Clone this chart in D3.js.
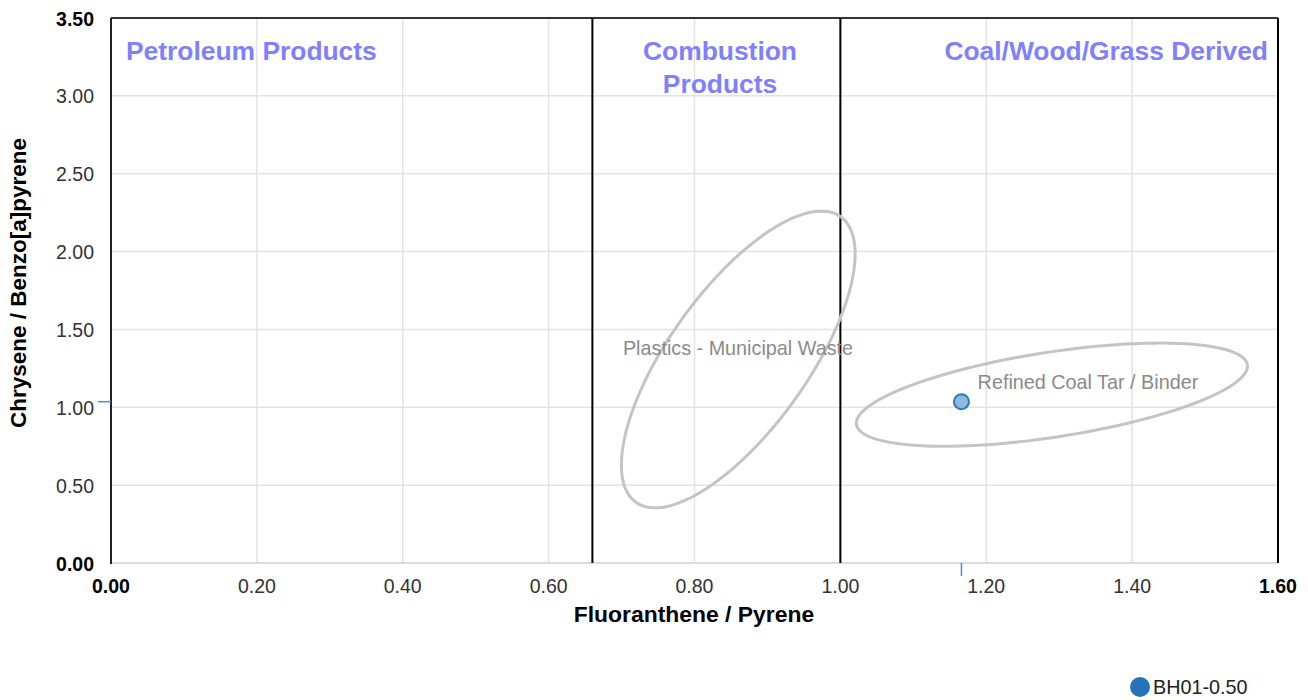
<!DOCTYPE html>
<html>
<head>
<meta charset="utf-8">
<script src="https://cdn.jsdelivr.net/npm/d3@7"></script>
<style>
  html, body { margin: 0; padding: 0; background: #fff; }
  svg { display: block; font-family: "Liberation Sans", Arial, sans-serif; }
</style>
</head>
<body>
<svg id="chart" width="1308" height="700"></svg>
<script>
// Axis ticks
const xTicks = [0, 0.2, 0.4, 0.6, 0.8, 1.0, 1.2, 1.4, 1.6];
const yTicks = [0, 0.5, 1.0, 1.5, 2.0, 2.5, 3.0, 3.5];

// Sample points: Fluoranthene/Pyrene vs Chrysene/Benzo[a]pyrene
const sampleNames = ["BH01-0.50"];
const sampleFlPy = [1.166];
const sampleChrBaP = [1.036];

// Source-region dividers (Fl/Py ratio)
const dividers = [0.66, 1.0];

// Region labels
const regionNames = ["Petroleum Products", "Combustion\nProducts", "Coal/Wood/Grass Derived"];

// Source ellipses in data units: centre, major and minor half-axis vectors
const ellipseNames = ["Plastics - Municipal Waste", "Refined Coal Tar / Binder"];
const ellipseCentres = [[0.860, 1.307], [1.290, 1.081]];
const ellipseMajor = [[0.140, 0.918], [0.268, 0.192]];
const ellipseMinor = [[0.078, -0.255], [0.0088, -0.270]];
const ellipseLabelAt = [[0.8596, 1.336], [1.3394, 1.1175]];

const svg = d3.select("#chart");
const m = { left: 111, right: 30, top: 18, bottom: 137 };
const W = 1308, H = 700;
const x = d3.scaleLinear().domain([0, 1.6]).range([m.left, W - m.right]);
const y = d3.scaleLinear().domain([0, 3.5]).range([H - m.bottom, m.top]);

// Grid
const grid = svg.append("g");
grid.selectAll("line.vx").data(xTicks.slice(1, -1)).join("line")
  .attr("x1", d => x(d)).attr("x2", d => x(d))
  .attr("y1", y(0)).attr("y2", y(3.5))
  .attr("stroke", "#e3e3e3").attr("stroke-width", 1.5);
grid.selectAll("line.hy").data(yTicks.slice(1, -1)).join("line")
  .attr("x1", x(0)).attr("x2", x(1.6))
  .attr("y1", d => y(d)).attr("y2", d => y(d))
  .attr("stroke", "#e3e3e3").attr("stroke-width", 1.5);

// Plot frame
svg.append("line").attr("x1", x(0)).attr("x2", x(1.6)).attr("y1", y(0)).attr("y2", y(0))
  .attr("stroke", "#d0d0d0").attr("stroke-width", 1.5);
svg.append("line").attr("x1", x(0)).attr("x2", x(1.6)).attr("y1", y(3.5)).attr("y2", y(3.5))
  .attr("stroke", "#333").attr("stroke-width", 2);
svg.append("line").attr("x1", x(1.6)).attr("x2", x(1.6)).attr("y1", y(0)).attr("y2", y(3.5))
  .attr("stroke", "#000").attr("stroke-width", 2);
svg.append("line").attr("x1", x(0)).attr("x2", x(0)).attr("y1", y(0) + 1).attr("y2", y(3.5))
  .attr("stroke", "#222").attr("stroke-width", 2);

// Dividers
svg.selectAll("line.div").data(dividers).join("line")
  .attr("x1", d => x(d)).attr("x2", d => x(d))
  .attr("y1", y(0)).attr("y2", y(3.5))
  .attr("stroke", "#000").attr("stroke-width", 2);

// Ellipses
const ellLine = d3.line().x(p => x(p[0])).y(p => y(p[1]));
ellipseNames.forEach((name, i) => {
  const c = ellipseCentres[i], u = ellipseMajor[i], v = ellipseMinor[i];
  const pts = d3.range(0, 361, 3).map(deg => {
    const t = deg * Math.PI / 180;
    return [c[0] + u[0] * Math.cos(t) + v[0] * Math.sin(t),
            c[1] + u[1] * Math.cos(t) + v[1] * Math.sin(t)];
  });
  svg.append("path").attr("d", ellLine(pts) + "Z")
    .attr("fill", "none").attr("stroke", "#c4c4c4").attr("stroke-width", 3);
  svg.append("text")
    .attr("x", x(ellipseLabelAt[i][0])).attr("y", y(ellipseLabelAt[i][1]))
    .attr("text-anchor", "middle").attr("font-size", 19.8).attr("fill", "#8a8a8a")
    .text(name);
});

// Region labels
const regionStyle = sel => sel.attr("font-size", 26.4).attr("font-weight", "bold").attr("fill", "#8080ff");
regionStyle(svg.append("text").attr("x", x(0) + 15).attr("y", 60)).text(regionNames[0]);
const comb = regionStyle(svg.append("text").attr("text-anchor", "middle").attr("y", 60));
regionNames[1].split("\n").forEach((t, k) => {
  comb.append("tspan").attr("x", 720).attr("dy", k ? 33 : 0).text(t);
});
regionStyle(svg.append("text").attr("x", x(1.6) - 10).attr("y", 60).attr("text-anchor", "end")).text(regionNames[2]);

// Tick labels
const isEnd = (i, n) => i === 0 || i === n - 1;
svg.selectAll("text.xt").data(xTicks).join("text")
  .attr("x", d => x(d)).attr("y", y(0) + 30)
  .attr("text-anchor", "middle").attr("font-size", 19.5)
  .attr("font-weight", (d, i) => isEnd(i, xTicks.length) ? "bold" : "normal")
  .attr("fill", (d, i) => isEnd(i, xTicks.length) ? "#000" : "#333")
  .text(d => d.toFixed(2));
svg.selectAll("text.yt").data(yTicks).join("text")
  .attr("x", x(0) - 17).attr("y", d => y(d) + 7.5)
  .attr("text-anchor", "end").attr("font-size", 19.5)
  .attr("font-weight", (d, i) => isEnd(i, yTicks.length) ? "bold" : "normal")
  .attr("fill", (d, i) => isEnd(i, yTicks.length) ? "#000" : "#333")
  .text(d => d.toFixed(2));

// Axis titles
svg.append("text").attr("x", 694).attr("y", 622)
  .attr("text-anchor", "middle").attr("font-size", 22.9).attr("font-weight", "bold").attr("fill", "#000")
  .text("Fluoranthene / Pyrene");
svg.append("text").attr("transform", "translate(26, 283) rotate(-90)")
  .attr("text-anchor", "middle").attr("font-size", 22.5).attr("font-weight", "bold").attr("fill", "#000")
  .text("Chrysene / Benzo[a]pyrene");

// Rug marks on axes
sampleNames.forEach((n, i) => {
  svg.append("line").attr("x1", x(0) - 13).attr("x2", x(0)).attr("y1", y(sampleChrBaP[i])).attr("y2", y(sampleChrBaP[i]))
    .attr("stroke", "#4a90d0").attr("stroke-width", 1.5);
  svg.append("line").attr("x1", x(sampleFlPy[i])).attr("x2", x(sampleFlPy[i])).attr("y1", y(0)).attr("y2", y(0) + 13)
    .attr("stroke", "#4a90d0").attr("stroke-width", 1.5);
});

// Points
svg.selectAll("circle.pt").data(sampleNames).join("circle")
  .attr("cx", (d, i) => x(sampleFlPy[i])).attr("cy", (d, i) => y(sampleChrBaP[i]))
  .attr("r", 7.5).attr("fill", "#8fb8db").attr("stroke", "#2c78b8").attr("stroke-width", 2);

// Legend
const lg = svg.append("g").attr("transform", "translate(1140, 687)");
sampleNames.forEach((n, i) => {
  lg.append("circle").attr("cx", 0).attr("cy", i * 22).attr("r", 10).attr("fill", "#2374b8");
  lg.append("text").attr("x", 13).attr("y", i * 22 + 6.5).attr("font-size", 19.8).attr("fill", "#222").text(n);
});
</script>
</body>
</html>
